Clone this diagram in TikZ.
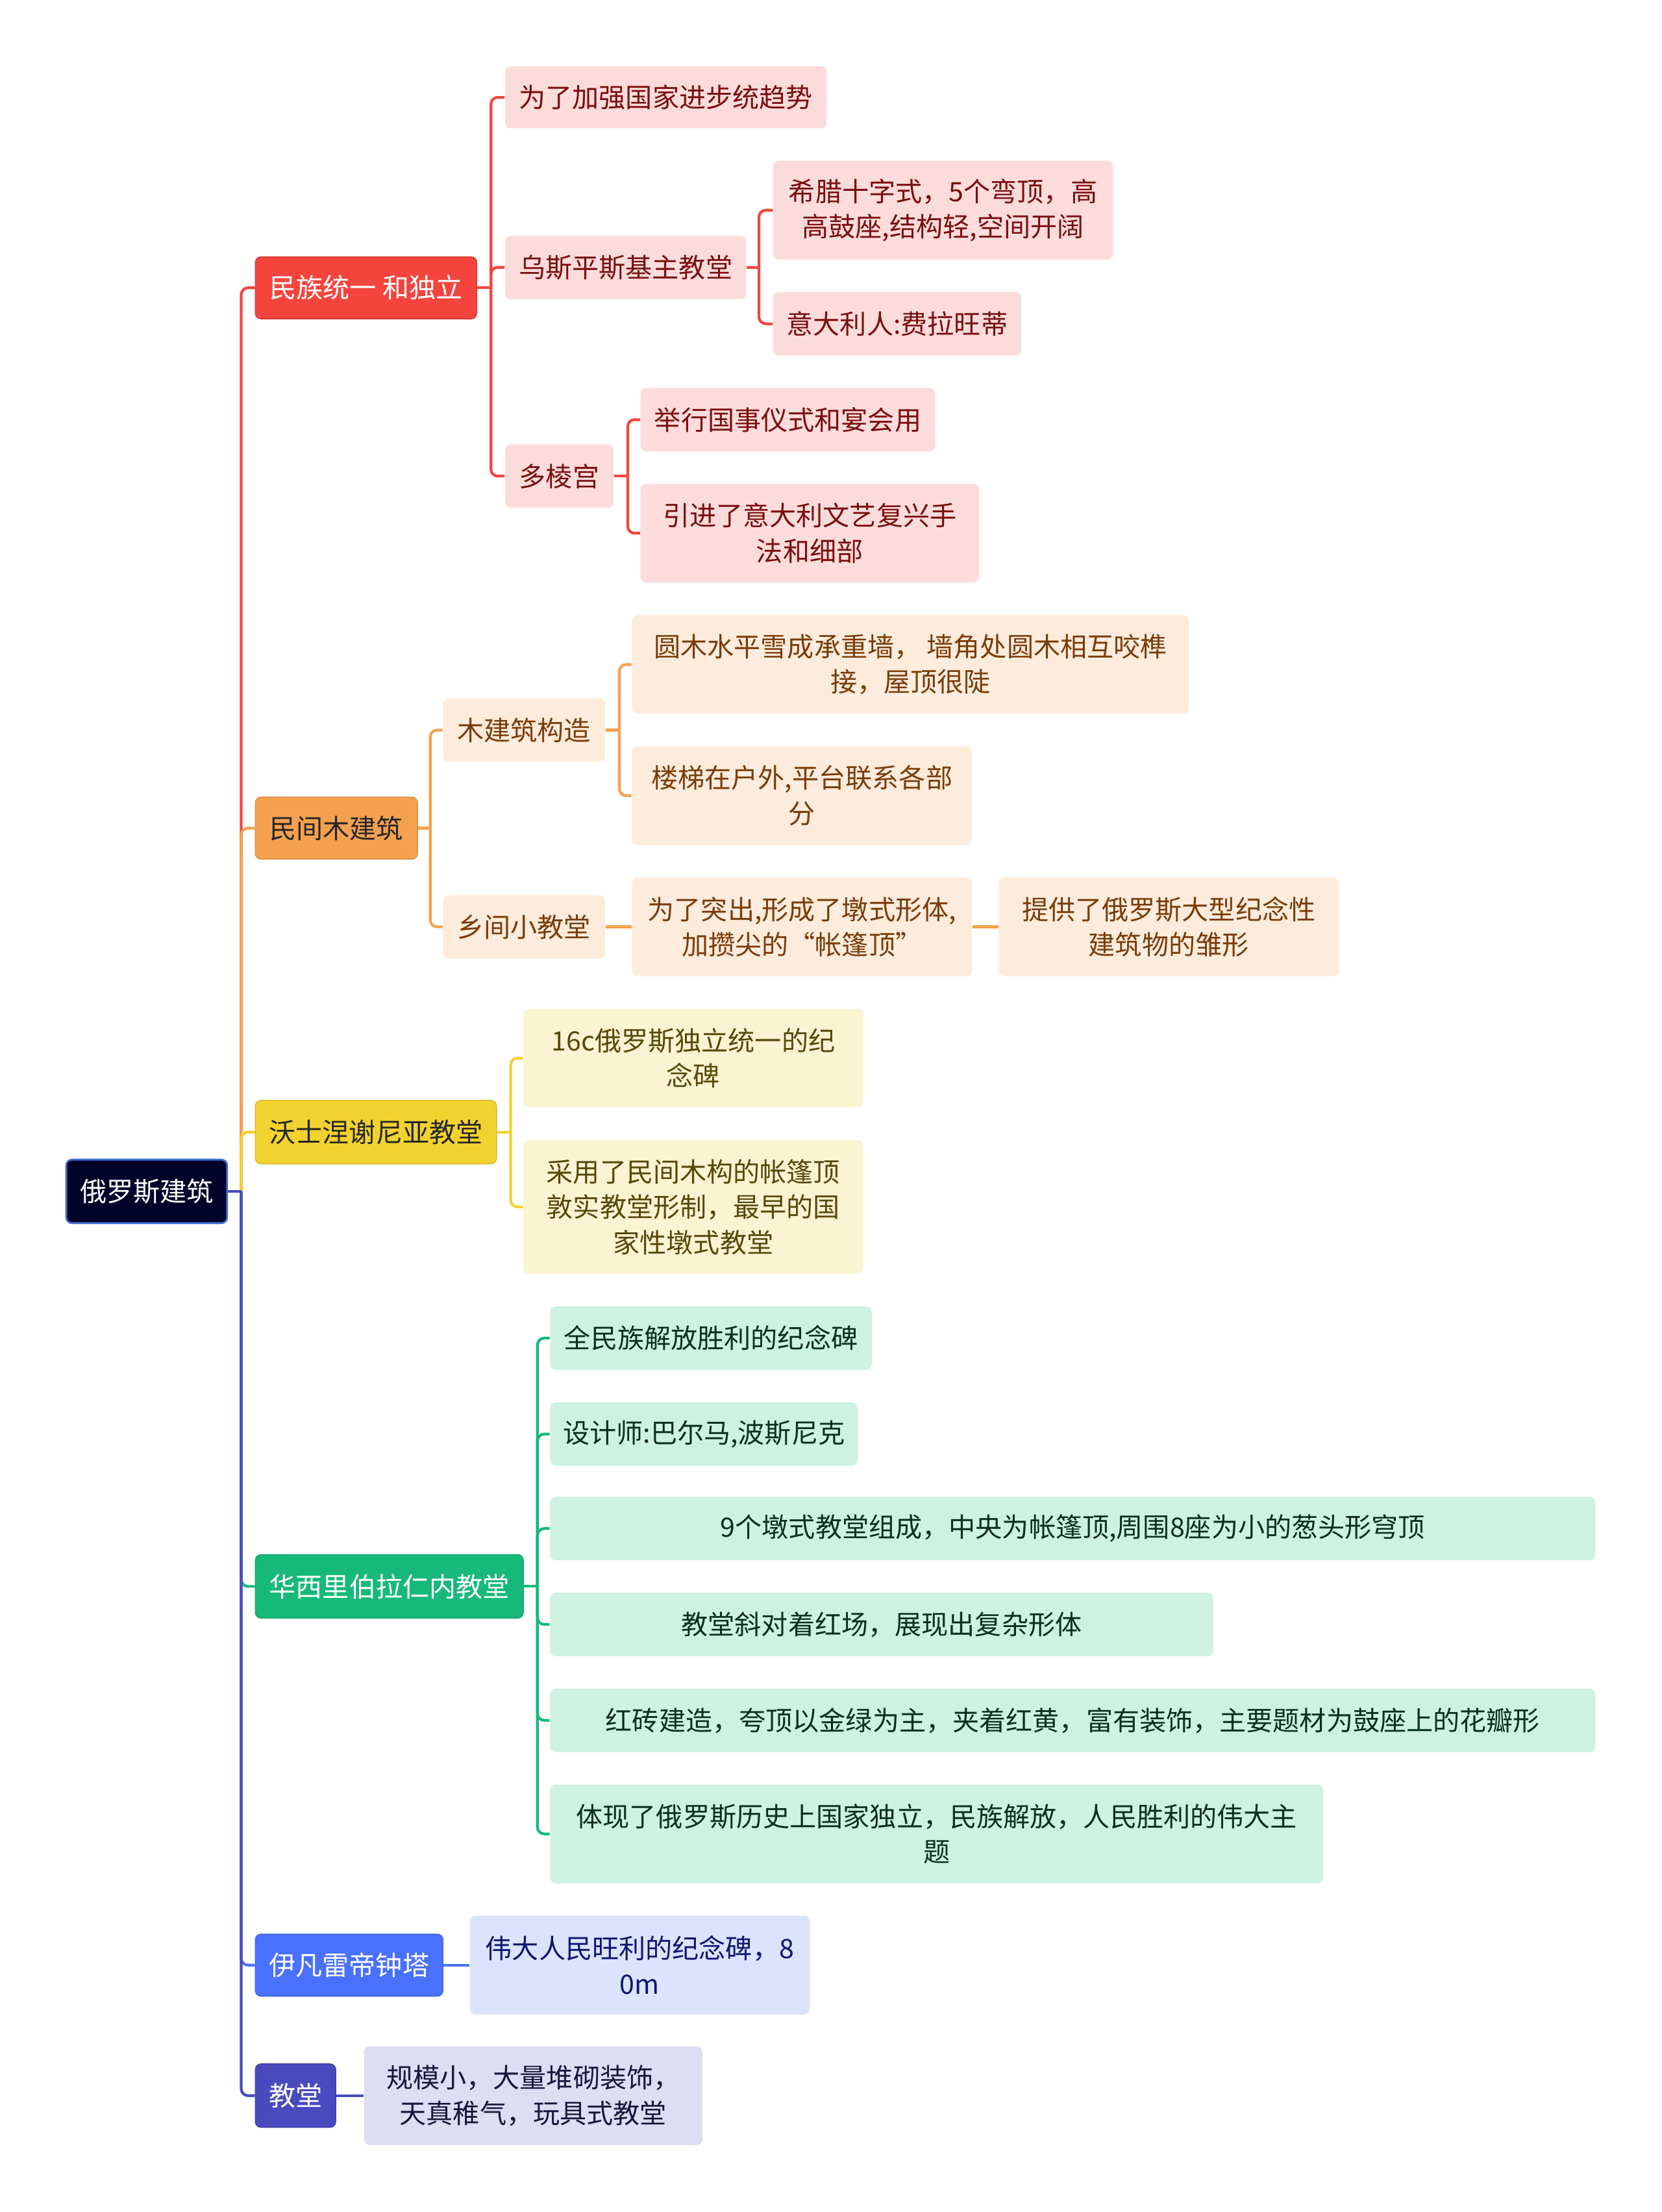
\documentclass[tikz,border=0pt]{standalone}
\usepackage{fontspec}
\setmainfont{Noto Sans CJK SC}
\usepackage{xcolor}
\usepackage{tikz}

\newlength\dpx
\setlength\dpx{0.021732cm}

\definecolor{rootfill}{HTML}{000229}
\definecolor{rootline}{HTML}{3D6BD2}
\definecolor{redmain}{HTML}{F5443E}
\definecolor{redsub}{HTML}{FCDCDB}
\definecolor{redtext}{HTML}{7A0E0E}
\definecolor{orgmain}{HTML}{F4A14F}
\definecolor{orgsub}{HTML}{FDECDC}
\definecolor{orgtext}{HTML}{7A3C0B}
\definecolor{yelmain}{HTML}{F2D22E}
\definecolor{yelsub}{HTML}{FBF4D3}
\definecolor{yeltext}{HTML}{57480B}
\definecolor{grnmain}{HTML}{17B97A}
\definecolor{grnsub}{HTML}{CEF1E2}
\definecolor{grntext}{HTML}{08301F}
\definecolor{blumain}{HTML}{4A70FF}
\definecolor{blusub}{HTML}{DCE3FC}
\definecolor{blutext}{HTML}{0D1670}
\definecolor{indmain}{HTML}{4A4ABF}
\definecolor{indsub}{HTML}{DDDDF3}
\definecolor{indtext}{HTML}{17173D}

\begin{document}
\begin{tikzpicture}[
  x=\dpx, y=-\dpx,
  box/.style={rounded corners=2.5pt, inner sep=0pt, align=center, font=\fontsize{11.7}{15.5}\selectfont},
  topic/.style={box, fill=rootfill, draw=rootline, line width=0.8pt, text=white},
  main/.style 2 args={box, fill=#1main, draw=#1main!88!black, line width=0.4pt, text=#2},
  sub/.style={box, fill=#1sub, text=#1text},
  link/.style={line width=1.2pt, rounded corners=3pt, draw=#1main},
]
\useasboundingbox (0,0) rectangle (1178,1568);

% root and main topics
\node[topic, minimum width=114\dpx, minimum height=45\dpx] (rus) at (104,844.5) {俄罗斯建筑};
\node[main={red}{white}, minimum width=157\dpx, minimum height=44\dpx] (nat) at (259.5,204) {民族统一 和独立};
\node[main={org}{black!85}, minimum width=115\dpx, minimum height=44\dpx] (folk) at (238.5,587) {民间木建筑};
\node[main={yel}{black!85}, minimum width=171\dpx, minimum height=45\dpx] (vos) at (266.5,802.5) {沃士涅谢尼亚教堂};
\node[main={grn}{white}, minimum width=190\dpx, minimum height=45\dpx] (vas) at (276,1124.5) {华西里伯拉仁内教堂};
\node[main={blu}{white}, minimum width=133\dpx, minimum height=44\dpx] (ivan) at (247.5,1393) {伊凡雷帝钟塔};
\node[main={ind}{white}, minimum width=57\dpx, minimum height=45\dpx] (church) at (209.5,1485.5) {教堂};

% red branch
\node[sub=red, minimum width=228\dpx, minimum height=44\dpx] (nat1) at (472,69) {为了加强国家进步统趋势};
\node[sub=red, minimum width=171\dpx, minimum height=45\dpx] (nat2) at (443.5,189.5) {乌斯平斯基主教堂};
\node[sub=red, minimum width=77\dpx, minimum height=45\dpx] (nat3) at (396.5,337.5) {多棱宫};
\node[sub=red, minimum width=241\dpx, minimum height=70\dpx] (nat21) at (668.5,149) {希腊十字式，5个弯顶，高\\高鼓座,结构轻,空间开阔};
\node[sub=red, minimum width=176\dpx, minimum height=45\dpx] (nat22) at (636,229.5) {意大利人:费拉旺蒂};
\node[sub=red, minimum width=209\dpx, minimum height=45\dpx] (nat31) at (558.5,297.5) {举行国事仪式和宴会用};
\node[sub=red, minimum width=240\dpx, minimum height=70\dpx] (nat32) at (574,378) {引进了意大利文艺复兴手\\法和细部};

% orange branch
\node[sub=org, minimum width=115\dpx, minimum height=45\dpx] (folk1) at (371.5,517.5) {木建筑构造};
\node[sub=org, minimum width=115\dpx, minimum height=45\dpx] (folk2) at (371.5,657) {乡间小教堂};
\node[sub=org, minimum width=395\dpx, minimum height=70\dpx] (folk11) at (645.5,471) {圆木水平雪成承重墙， 墙角处圆木相互咬榫\\接，屋顶很陡};
\node[sub=org, minimum width=241\dpx, minimum height=70\dpx] (folk12) at (568.5,564) {楼梯在户外,平台联系各部\\分};
\node[sub=org, minimum width=241\dpx, minimum height=70\dpx] (folk21) at (568.5,657) {为了突出,形成了墩式形体,\\加攒尖的“帐篷顶”};
\node[sub=org, minimum width=241\dpx, minimum height=70\dpx] (folk211) at (828.5,657) {提供了俄罗斯大型纪念性\\建筑物的雏形};

% yellow branch
\node[sub=yel, minimum width=241\dpx, minimum height=70\dpx] (vos1) at (491.5,750) {16c俄罗斯独立统一的纪\\念碑};
\node[sub=yel, minimum width=241\dpx, minimum height=95\dpx] (vos2) at (491.5,855.5) {采用了民间木构的帐篷顶\\敦实教堂形制，最早的国\\家性墩式教堂};

% green branch
\node[sub=grn, minimum width=228\dpx, minimum height=45\dpx] (vas1) at (504,948.5) {全民族解放胜利的纪念碑};
\node[sub=grn, minimum width=218\dpx, minimum height=45\dpx] (vas2) at (499,1016.5) {设计师:巴尔马,波斯尼克};
\node[sub=grn, minimum width=741\dpx, minimum height=45\dpx] (vas3) at (760.5,1083.5) {9个墩式教堂组成，中央为帐篷顶,周围8座为小的葱头形穹顶};
\node[sub=grn, minimum width=470\dpx, minimum height=45\dpx] (vas4) at (625,1151.5) {教堂斜对着红场，展现出复杂形体};
\node[sub=grn, minimum width=741\dpx, minimum height=45\dpx] (vas5) at (760.5,1219.5) {红砖建造，夸顶以金绿为主，夹着红黄，富有装饰，主要题材为鼓座上的花瓣形};
\node[sub=grn, minimum width=548\dpx, minimum height=70\dpx] (vas6) at (664,1300) {体现了俄罗斯历史上国家独立，民族解放，人民胜利的伟大主\\题};

% blue and indigo branches
\node[sub=blu, minimum width=241\dpx, minimum height=70\dpx] (ivan1) at (453.5,1393) {伟大人民旺利的纪念碑，8\\0m};
\node[sub=ind, minimum width=240\dpx, minimum height=70\dpx] (church1) at (378,1485.5) {规模小，大量堆砌装饰，\\天真稚气，玩具式教堂};

% junctions
\coordinate (rusj) at (171,844.5);
\coordinate (natj) at (348,204);
\coordinate (nat2j) at (538,189.5);
\coordinate (nat3j) at (445,337.5);
\coordinate (folkj) at (305,587);
\coordinate (folk1j) at (439,517.5);
\coordinate (vosj) at (362,802.5);
\coordinate (vasj) at (381,1124.5);

% trunk
\draw[link=red] (rusj) |- (nat.west);
\draw[link=org] (rusj) |- (folk.west);
\draw[link=yel] (rusj) |- (vos.west);
\draw[link=grn] (rusj) |- (vas.west);
\draw[link=blu] (rusj) |- (ivan.west);
\draw[link=ind] (rusj) |- (church.west);
\draw[link=ind] (rus.east) -- (rusj);

% red links
\draw[link=red] (nat.east) -- (natj);
\foreach \c in {nat1,nat2,nat3} \draw[link=red] (natj) |- (\c.west);
\draw[link=red] (nat2.east) -- (nat2j);
\foreach \c in {nat21,nat22} \draw[link=red] (nat2j) |- (\c.west);
\draw[link=red] (nat3.east) -- (nat3j);
\foreach \c in {nat31,nat32} \draw[link=red] (nat3j) |- (\c.west);

% orange links
\draw[link=org] (folk.east) -- (folkj);
\foreach \c in {folk1,folk2} \draw[link=org] (folkj) |- (\c.west);
\draw[link=org] (folk1.east) -- (folk1j);
\foreach \c in {folk11,folk12} \draw[link=org] (folk1j) |- (\c.west);
\draw[link=org] (folk2.east) -- (folk21.west);
\draw[link=org] (folk21.east) -- (folk211.west);

% yellow links
\draw[link=yel] (vos.east) -- (vosj);
\foreach \c in {vos1,vos2} \draw[link=yel] (vosj) |- (\c.west);

% green links
\draw[link=grn] (vas.east) -- (vasj);
\foreach \c in {vas1,vas2,vas3,vas4,vas5,vas6} \draw[link=grn] (vasj) |- (\c.west);

% blue and indigo links
\draw[link=blu] (ivan.east) -- (ivan1.west);
\draw[link=ind] (church.east) -- (church1.west);
\end{tikzpicture}
\end{document}
